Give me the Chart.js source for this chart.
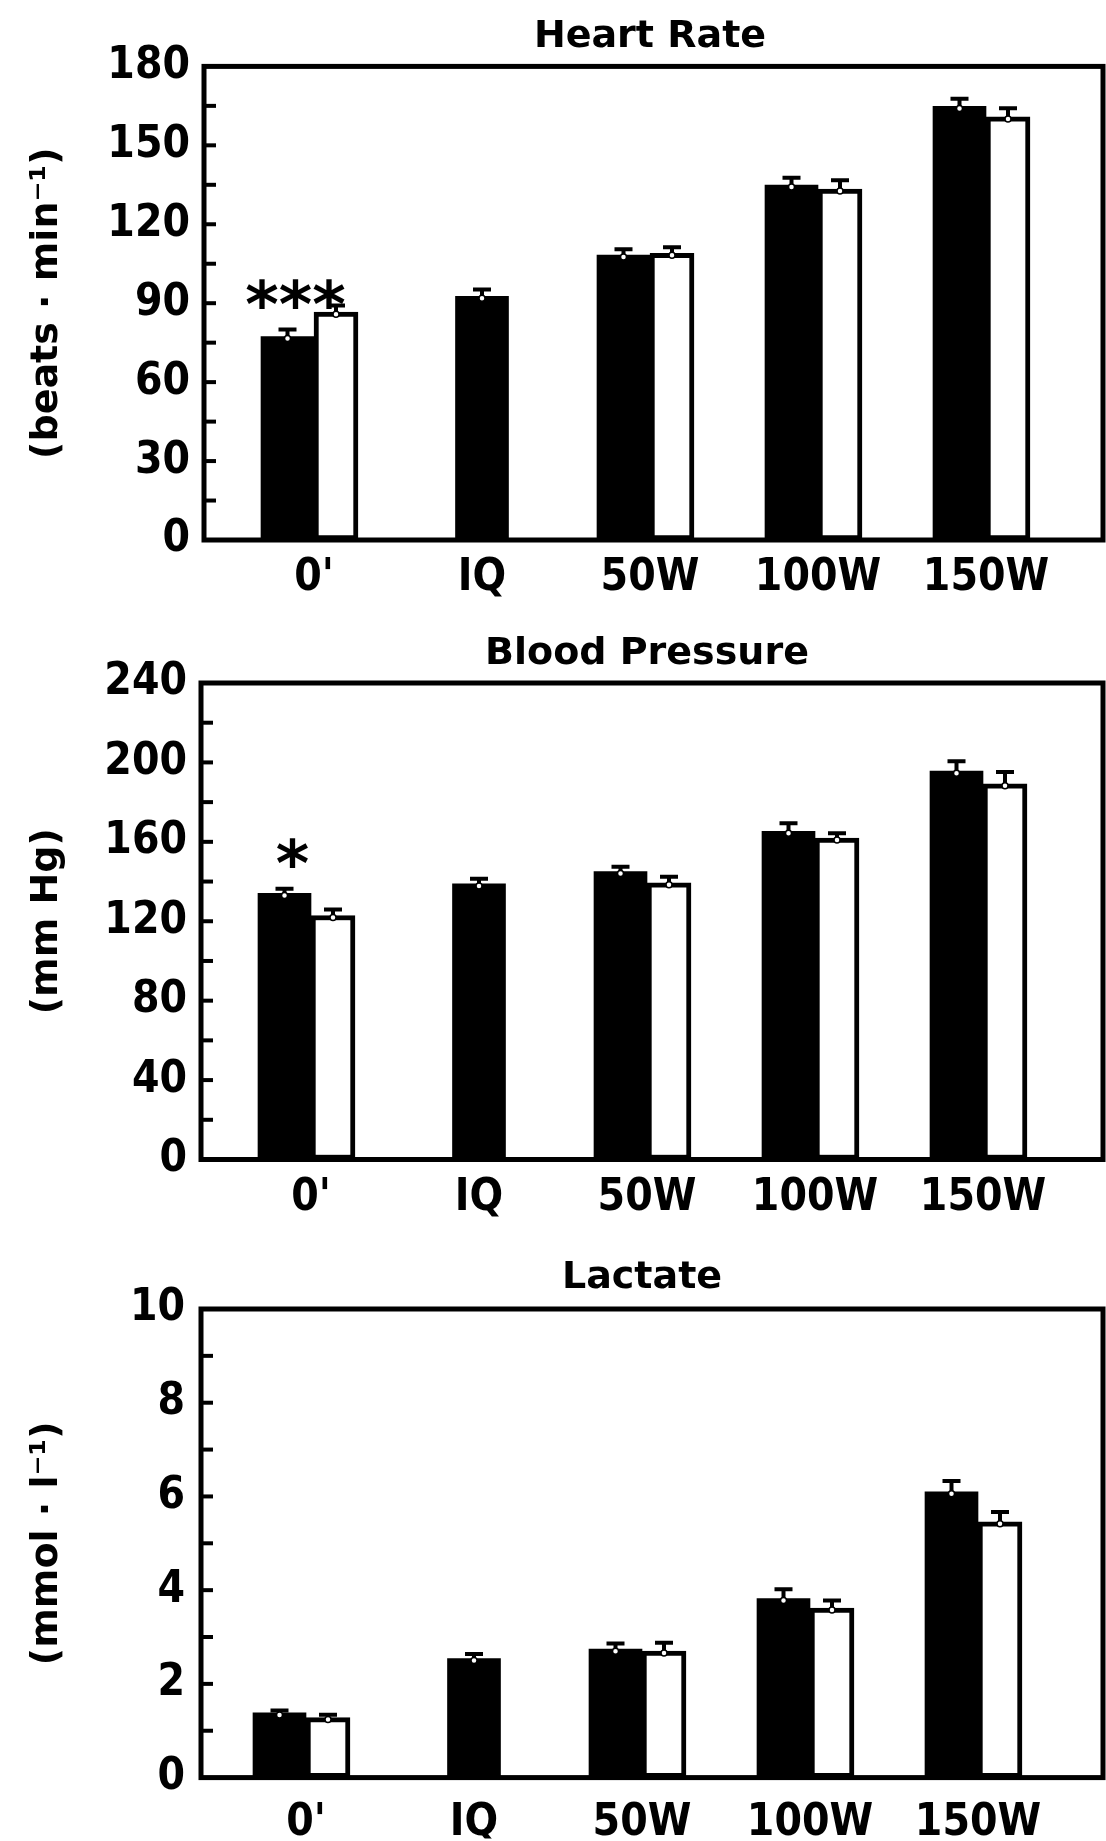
<!DOCTYPE html>
<html>
<head>
<meta charset="utf-8">
<title>Heart Rate, Blood Pressure, Lactate</title>
<script src="https://cdn.jsdelivr.net/npm/chart.js@4.4.1/dist/chart.umd.min.js"></script>
<style>
  html, body { margin: 0; padding: 0; background: #fff; }
  canvas { display: block; }
</style>
</head>
<body>
<canvas id="hr-chart" width="1106" height="614"></canvas>
<canvas id="bp-chart" width="1106" height="614"></canvas>
<canvas id="lac-chart" width="1106" height="613"></canvas>
<script>
// ── Data ──
const categories = ["0'", "IQ", "50W", "100W", "150W"];

// Heart rate, beats/min
const hrFilled = [77.3, 92.6, 108.3, 134.9, 164.8];
const hrFilledSem = [2.7, 2.6, 2.2, 2.8, 2.9];
const hrOpen = [86.6, null, 109, 133.4, 160.8];
const hrOpenSem = [2.5, null, 2.3, 3.3, 3.3];
const hrMarks = ["***", "", "", "", ""];

// Blood pressure, mm Hg
const bpFilled = [134, 138.8, 145, 165.3, 195.6];
const bpFilledSem = [2.4, 2.6, 2.4, 4, 5];
const bpOpen = [122.9, null, 139.4, 161.9, 189.2];
const bpOpenSem = [3, null, 3, 2.4, 6];
const bpMarks = ["*", "", "", "", ""];

// Lactate, mmol/l
const lacFilled = [1.38, 2.54, 2.74, 3.82, 6.1];
const lacFilledSem = [0.05, 0.1, 0.12, 0.2, 0.23];
const lacOpen = [1.28, null, 2.7, 3.62, 5.46];
const lacOpenSem = [0.06, null, 0.18, 0.16, 0.21];
const lacMarks = ["", "", "", "", ""];

// ── Styles ──
const INK = "#000";
const TICK_FONT = {
  family: '"DejaVu Sans Condensed", "Liberation Sans", sans-serif',
  size: 44,
  weight: "bold",
};
const TITLE_FONT = { family: '"DejaVu Sans", sans-serif', size: 38, weight: "bold" };
const UNIT_FONT = { family: '"DejaVu Sans", sans-serif', size: 38, weight: "bold" };

// ── Plugin: box frame with inward ticks on the left edge ──
const framePlugin = {
  id: "frame",
  afterDatasetsDraw(chart, args, opts) {
    const { ctx, chartArea } = chart;
    const y = chart.scales.y;
    ctx.save();
    ctx.strokeStyle = INK;
    ctx.lineWidth = 5;
    ctx.strokeRect(opts.left, chartArea.top, opts.right - opts.left, chartArea.bottom - chartArea.top);

    ctx.lineWidth = 4;
    for (let v = y.min + opts.minorStep; v < y.max; v += opts.minorStep) {
      const py = y.getPixelForValue(v);
      ctx.beginPath();
      ctx.moveTo(opts.left, py);
      ctx.lineTo(opts.left + 12, py);
      ctx.stroke();
    }
    ctx.restore();
  },
};

// ── Plugin: SEM error bars (upper half only) ──
const errorBarPlugin = {
  id: "errorBars",
  afterDatasetsDraw(chart) {
    const { ctx } = chart;
    const y = chart.scales.y;
    ctx.save();
    ctx.strokeStyle = INK;
    chart.data.datasets.forEach((ds, i) => {
      const meta = chart.getDatasetMeta(i);
      meta.data.forEach((bar, j) => {
        const v = ds.data[j];
        if (v == null) return;
        const top = y.getPixelForValue(v + ds.sem[j]);
        ctx.lineWidth = 4;
        ctx.beginPath();
        ctx.moveTo(bar.x, bar.y);
        ctx.lineTo(bar.x, top);
        ctx.moveTo(bar.x - 9, top);
        ctx.lineTo(bar.x + 9, top);
        ctx.stroke();

        // small open circle for the mean
        ctx.beginPath();
        ctx.arc(bar.x, bar.y + 2, 3, 0, Math.PI * 2);
        ctx.fillStyle = "#fff";
        ctx.fill();
        ctx.lineWidth = 1.5;
        ctx.stroke();
      });
    });
    ctx.restore();
  },
};

// ── Plugin: significance asterisks over the filled bar ──
const marksPlugin = {
  id: "marks",
  afterDatasetsDraw(chart, args, opts) {
    const { ctx } = chart;
    const y = chart.scales.y;
    const ds = chart.data.datasets[0];
    const meta = chart.getDatasetMeta(0);
    ctx.save();
    ctx.fillStyle = INK;
    ctx.font = 'bold 64px "DejaVu Sans", sans-serif';
    ctx.textAlign = "center";
    opts.labels.forEach((m, j) => {
      if (!m) return;
      const bar = meta.data[j];
      const cy = y.getPixelForValue(ds.data[j] + ds.sem[j]) - opts.gap;
      const tm = ctx.measureText(m);
      const base = cy + (tm.actualBoundingBoxAscent - tm.actualBoundingBoxDescent) / 2;
      ctx.fillText(m, bar.x + 8, base);
    });
    ctx.restore();
  },
};

// ── Build one panel ──
function makePanel(id, cfg) {
  const width = document.getElementById(id).width;

  new Chart(document.getElementById(id), {
    type: "bar",
    data: {
      labels: categories,
      datasets: [
        {
          data: cfg.filled,
          sem: cfg.filledSem,
          backgroundColor: INK,
          borderWidth: 0,
          barThickness: 53,
          skipNull: true,
        },
        {
          data: cfg.open,
          sem: cfg.openSem,
          backgroundColor: "#fff",
          borderColor: INK,
          borderWidth: 5,
          borderSkipped: false,
          barThickness: 44,
          skipNull: true,
        },
      ],
    },
    options: {
      responsive: false,
      animation: false,
      layout: { padding: { left: 0, right: width - cfg.areaRight, top: 0, bottom: 0 } },
      plugins: {
        legend: { display: false },
        tooltip: { enabled: false },
        title: {
          display: true,
          text: cfg.title,
          fullSize: false,
          color: INK,
          font: TITLE_FONT,
          padding: { top: cfg.titleTop, bottom: cfg.titleBottom },
        },
        frame: { left: cfg.frameLeft, right: cfg.frameRight, minorStep: cfg.minorStep },
        marks: { labels: cfg.marks, gap: 36 },
      },
      scales: {
        x: {
          grid: { display: false, drawTicks: false },
          border: { display: false },
          ticks: {
            color: INK,
            font: TICK_FONT,
            padding: cfg.xPad,
            maxRotation: 0,
            autoSkip: false,
          },
          afterFit: (s) => {
            s.height = cfg.xHeight;
          },
        },
        y: {
          min: 0,
          max: cfg.max,
          grid: { display: false, drawTicks: false },
          border: { display: false },
          ticks: {
            stepSize: cfg.step,
            color: INK,
            font: TICK_FONT,
            padding: cfg.yPad,
          },
          title: {
            display: true,
            text: cfg.unit,
            color: INK,
            font: UNIT_FONT,
            padding: { top: 24, bottom: 0 },
          },
          afterFit: (s) => {
            s.width = cfg.areaLeft;
          },
        },
      },
    },
    plugins: [errorBarPlugin, framePlugin, marksPlugin],
  });
}

makePanel("hr-chart", {
  title: "Heart Rate",
  unit: "(beats · min⁻¹)",
  filled: hrFilled,
  filledSem: hrFilledSem,
  open: hrOpen,
  openSem: hrOpenSem,
  marks: hrMarks,
  max: 180,
  step: 30,
  minorStep: 15,
  areaLeft: 230,
  areaRight: 1070,
  frameLeft: 204,
  frameRight: 1103,
  titleTop: 11.2,
  titleBottom: 6.2,
  xHeight: 74,
  xPad: 12,
  yPad: 40,
});

makePanel("bp-chart", {
  title: "Blood Pressure",
  unit: "(mm Hg)",
  filled: bpFilled,
  filledSem: bpFilledSem,
  open: bpOpen,
  openSem: bpOpenSem,
  marks: bpMarks,
  max: 240,
  step: 40,
  minorStep: 20,
  areaLeft: 227,
  areaRight: 1067,
  frameLeft: 201,
  frameRight: 1103,
  titleTop: 17.2,
  titleBottom: 6.2,
  xHeight: 68.5,
  xPad: 13,
  yPad: 40,
});

makePanel("lac-chart", {
  title: "Lactate",
  unit: "(mmol · l⁻¹)",
  filled: lacFilled,
  filledSem: lacFilledSem,
  open: lacOpen,
  openSem: lacOpenSem,
  marks: lacMarks,
  max: 10,
  step: 2,
  minorStep: 1,
  areaLeft: 222,
  areaRight: 1062,
  frameLeft: 201,
  frameRight: 1103,
  titleTop: 27.2,
  titleBottom: 8.2,
  xHeight: 61,
  xPad: 20,
  yPad: 37,
});
</script>
</body>
</html>
